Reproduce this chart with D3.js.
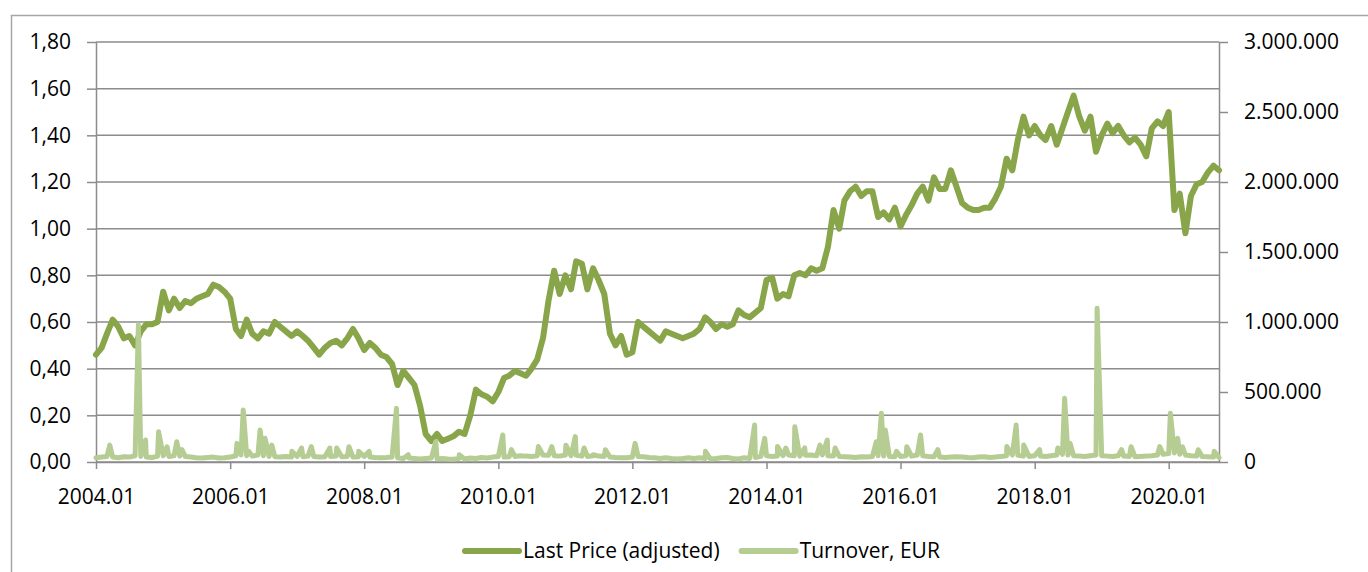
<!DOCTYPE html>
<html>
<head>
<meta charset="utf-8">
<script src="https://cdn.jsdelivr.net/npm/d3@7"></script>
<style>
  body { margin: 0; background: #fff; }
  text { font-family: "Open Sans", sans-serif; font-size: 21px; fill: #000; }
</style>
</head>
<body>
<div id="chart-container"></div>
<script>
// monthly values, Jan 2004 .. Oct 2020
const priceMonthly = [
  0.46,0.49,0.55,0.61,0.58,0.53,0.54,0.50,0.56,0.59,0.59,0.60,
  0.73,0.65,0.70,0.66,0.69,0.68,0.70,0.71,0.72,0.76,0.75,0.73,
  0.70,0.57,0.54,0.61,0.55,0.53,0.56,0.55,0.60,0.58,0.56,0.54,
  0.56,0.54,0.52,0.49,0.46,0.49,0.51,0.52,0.50,0.53,0.57,0.53,
  0.48,0.51,0.49,0.46,0.45,0.42,0.33,0.39,0.36,0.33,0.24,0.12,
  0.09,0.12,0.09,0.10,0.11,0.13,0.12,0.20,0.31,0.29,0.28,0.26,
  0.30,0.36,0.37,0.39,0.38,0.37,0.40,0.44,0.53,0.69,0.82,0.72,
  0.80,0.74,0.86,0.85,0.74,0.83,0.78,0.72,0.55,0.50,0.54,0.46,
  0.47,0.60,0.58,0.56,0.54,0.52,0.56,0.55,0.54,0.53,0.54,0.55,
  0.57,0.62,0.60,0.57,0.59,0.58,0.59,0.65,0.63,0.62,0.64,0.66,
  0.78,0.79,0.70,0.72,0.71,0.80,0.81,0.80,0.83,0.82,0.83,0.92,
  1.08,1.00,1.12,1.16,1.18,1.14,1.16,1.16,1.05,1.07,1.04,1.09,
  1.01,1.06,1.10,1.15,1.18,1.12,1.22,1.17,1.17,1.25,1.18,1.11,
  1.09,1.08,1.08,1.09,1.09,1.13,1.18,1.30,1.25,1.38,1.48,1.40,
  1.44,1.40,1.38,1.44,1.36,1.43,1.50,1.57,1.48,1.42,1.48,1.33,
  1.40,1.45,1.41,1.44,1.40,1.37,1.39,1.36,1.31,1.43,1.46,1.44,
  1.50,1.08,1.15,0.98,1.14,1.19,1.20,1.24,1.27,1.25
];

// turnover, thousand EUR
const turnoverMonthlyK = [
  30,35,40,35,30,38,35,45,40,35,32,40,
  45,40,45,42,40,35,30,28,32,35,28,30,
  35,45,50,45,42,50,45,40,38,35,40,35,
  40,38,42,40,35,38,40,42,38,40,35,38,
  40,35,32,30,32,35,30,25,28,25,22,25,
  28,22,25,22,20,25,22,28,25,32,28,35,
  40,35,38,40,45,42,40,45,50,48,45,42,
  50,45,48,42,40,45,42,40,35,32,30,30,
  35,40,38,32,30,25,30,25,22,25,30,25,
  30,25,22,25,30,32,25,22,30,25,32,40,
  45,40,42,45,50,45,42,48,50,45,50,45,
  42,40,38,35,32,38,35,40,45,42,40,38,
  40,45,42,50,45,40,38,35,32,35,38,35,
  32,30,35,38,32,35,40,45,50,48,42,40,
  45,42,40,45,50,55,50,45,42,40,45,50,
  45,42,40,45,42,40,38,40,42,45,50,55,
  60,65,55,50,45,42,40,38,35,32
];

const turnoverSpikesK = [
  ["2004-03-16",121],["2004-08-19",980],["2004-09-27",157],["2004-12-07",216],
  ["2005-01-22",109],["2005-03-16",145],["2005-04-13",88],
  ["2006-02-07",133],["2006-03-13",371],["2006-04-13",76],["2006-06-13",229],
  ["2006-07-10",169],["2006-08-16",121],["2006-12-03",76],
  ["2007-01-25",100],["2007-03-19",110],["2007-06-28",100],["2007-08-04",100],
  ["2007-10-10",109],["2007-12-02",76],
  ["2008-01-28",76],["2008-06-25",383],["2008-08-28",52],
  ["2009-01-25",145],["2009-06-02",52],
  ["2010-01-25",193],["2010-03-13",88],["2010-08-07",110],["2010-10-19",110],
  ["2011-01-04",120],["2011-02-24",181],["2011-04-13",100],["2011-06-02",52],["2011-08-07",88],
  ["2012-01-16",133],
  ["2013-02-02",76],["2013-10-28",264],["2013-12-22",169],
  ["2014-03-02",110],["2014-04-16",100],["2014-06-04",252],["2014-07-28",100],
  ["2014-10-19",121],["2014-11-28",157],
  ["2015-01-10",100],["2015-08-22",145],["2015-09-19",348],["2015-10-10",229],["2015-12-10",76],
  ["2016-02-04",109],["2016-04-19",193],["2016-07-22",88],
  ["2017-08-02",110],["2017-09-22",264],["2017-11-02",121],
  ["2018-01-28",88],["2018-05-07",100],["2018-06-13",455],["2018-07-13",133],["2018-12-07",1098],
  ["2019-04-19",88],["2019-06-10",109],["2019-11-13",110],
  ["2020-01-10",348],["2020-02-19",169],["2020-03-16",109],["2020-06-10",88],["2020-09-05",76]
];

const priceTicks = [0, 0.2, 0.4, 0.6, 0.8, 1.0, 1.2, 1.4, 1.6, 1.8];
const turnoverTicks = [0, 500000, 1000000, 1500000, 2000000, 2500000, 3000000];
const dateTicks = ["2004.01","2006.01","2008.01","2010.01","2012.01","2014.01","2016.01","2018.01","2020.01"];
const legendLabels = ["Last Price (adjusted)", "Turnover, EUR"];

const priceColor = "#88a54a";
const turnoverColor = "#b5cc93";
const gridColor = "#8c8c8c";

const W = 1368, H = 572;
const margin = {top: 42, right: 149, bottom: 110, left: 96},
      width = W - margin.left - margin.right,
      height = H - margin.top - margin.bottom;

const locale = d3.formatLocale({decimal: ",", thousands: ".", grouping: [3], currency: ["", ""]});
const fmtPrice = locale.format(".2f");
const fmtTurn = locale.format(",.0f");
const parseTick = d3.timeParse("%Y.%m");
const parseDay = d3.timeParse("%Y-%m-%d");

const start = new Date(2004, 0, 1);
const priceData = priceMonthly.map((v, i) => ({date: d3.timeMonth.offset(start, i), value: v}));
const turnoverData = turnoverMonthlyK.map((v, i) => ({date: d3.timeMonth.offset(start, i), value: v * 1000}))
  .concat(turnoverSpikesK.map(d => ({date: parseDay(d[0]), value: d[1] * 1000})))
  .sort((a, b) => a.date - b.date);

const svgRoot = d3.select("#chart-container").append("svg")
    .attr("width", W)
    .attr("height", H);

svgRoot.append("rect").attr("width", W).attr("height", H).attr("fill", "#fff");

// chart frame (top and left edges visible)
svgRoot.append("path")
    .attr("d", `M11.5,${H} V15.5 H${W}`)
    .attr("fill", "none")
    .attr("stroke", "#a6a6a6")
    .attr("stroke-width", 1.5);

const svg = svgRoot.append("g")
    .attr("transform", `translate(${margin.left}, ${margin.top})`);

const x = d3.scaleTime()
    .domain([start, priceData[priceData.length - 1].date])
    .range([0, width]);

const yPrice = d3.scaleLinear()
    .domain([0, 1.8])
    .range([height, 0]);

const yTurn = d3.scaleLinear()
    .domain([0, 3000000])
    .range([height, 0]);

// gridlines
svg.append("g")
    .selectAll("line")
    .data(priceTicks)
    .enter().append("line")
    .attr("x1", 0)
    .attr("x2", width)
    .attr("y1", d => yPrice(d))
    .attr("y2", d => yPrice(d))
    .attr("stroke", gridColor)
    .attr("stroke-width", 1.5);

function styleAxis(g) {
    g.select(".domain").attr("stroke", gridColor).attr("stroke-width", 1.5);
    g.selectAll(".tick line").attr("stroke", gridColor).attr("stroke-width", 1.5);
    g.selectAll(".tick text").attr("font-size", null).attr("font-family", null).attr("fill", "#000");
}

svg.append("g")
    .call(d3.axisLeft(yPrice).tickValues(priceTicks).tickFormat(fmtPrice).tickSize(9).tickSizeOuter(0).tickPadding(16))
    .call(styleAxis);

svg.append("g")
    .attr("transform", `translate(${width}, 0)`)
    .call(d3.axisRight(yTurn).tickValues(turnoverTicks).tickFormat(fmtTurn).tickSize(9).tickSizeOuter(0).tickPadding(16))
    .call(styleAxis);

svg.append("g")
    .attr("transform", `translate(0, ${height})`)
    .call(d3.axisBottom(x).tickValues(dateTicks.map(parseTick)).tickFormat(d3.timeFormat("%Y.%m")).tickSize(7).tickSizeOuter(0).tickPadding(20))
    .call(styleAxis);

// series
const priceLine = d3.line()
    .x(d => x(d.date))
    .y(d => yPrice(d.value));

const turnLine = d3.line()
    .x(d => x(d.date))
    .y(d => yTurn(d.value));

svg.append("path")
    .datum(priceData)
    .attr("d", priceLine)
    .attr("fill", "none")
    .attr("stroke", priceColor)
    .attr("stroke-width", 6)
    .attr("stroke-linejoin", "round")
    .attr("stroke-linecap", "round");

svg.append("path")
    .datum(turnoverData)
    .attr("d", turnLine)
    .attr("fill", "none")
    .attr("stroke", turnoverColor)
    .attr("stroke-width", 5)
    .attr("stroke-linejoin", "round")
    .attr("stroke-linecap", "round");

// legend
const legend = svgRoot.append("g");
const legendColors = [priceColor, turnoverColor];
const items = legend.selectAll("g")
    .data(legendLabels)
    .enter().append("g");
items.append("line")
    .attr("x1", 0).attr("x2", 54)
    .attr("y1", 0).attr("y2", 0)
    .attr("stroke", (d, i) => legendColors[i])
    .attr("stroke-width", 6)
    .attr("stroke-linecap", "round");
items.append("text")
    .attr("x", 58)
    .attr("dy", "0.35em")
    .text(d => d);

let cursor = 0;
items.each(function() {
    const w = 58 + this.querySelector("text").getComputedTextLength();
    d3.select(this).attr("transform", `translate(${cursor}, 0)`);
    cursor += w + 22;
});
const legendWidth = cursor - 22;
legend.attr("transform", `translate(${Math.round(702 - legendWidth / 2)}, 551)`);
</script>
</body>
</html>
